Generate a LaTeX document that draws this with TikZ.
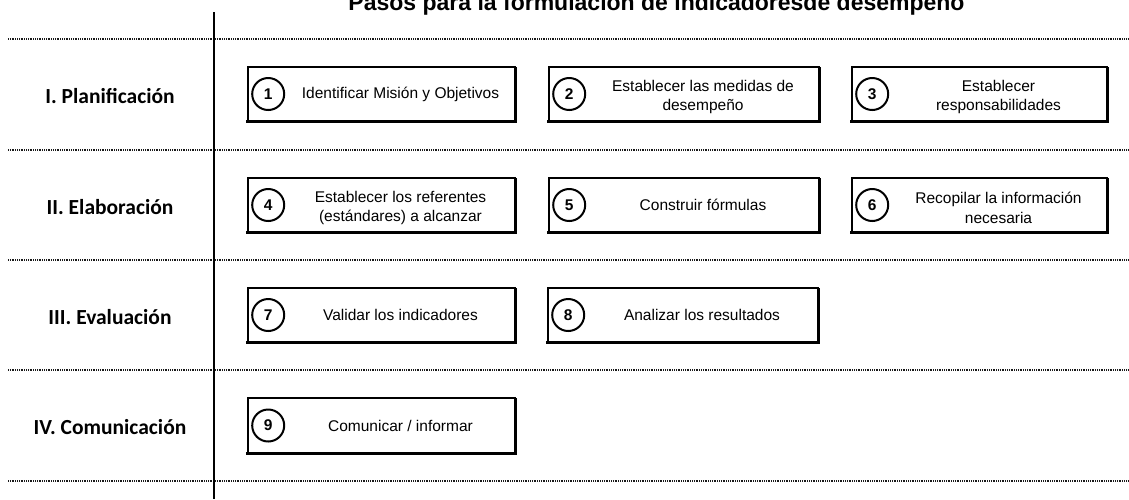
\documentclass[tikz,border=0pt]{standalone}
\usepackage{fontspec}
\setmainfont{Liberation Sans}
\newfontfamily\carlito{Carlito}
\usetikzlibrary{calc,shapes.geometric}
\newcommand\stepbx[8]{%
  \node[boxst, minimum width=#3pt, minimum height=#5pt] (b#1) at (#2,#4) {};
  \draw[line width=2.8pt] ($(b#1.north east)+(0,0.8)$) -- (b#1.south east) -- ($(b#1.south west)+(-0.8,0)$);
  \node[numst] (c#1) at ($(b#1.west)+(21,0)$) {#6};
  \node[txtst] (t#1) at ($(c#1.east)!0.5!(b#1.east)+(0,#8)$) {#7};
}
\begin{document}
\begin{tikzpicture}[x=1pt,y=-1pt,
  boxst/.style={draw, line width=1.6pt, rectangle, inner sep=0pt},
  numst/.style={draw, circle, line width=2pt, minimum size=32pt, inner sep=0pt, font=\bfseries\fontsize{15.5}{15.5}\selectfont},
  txtst/.style={align=center, font=\fontsize{15.5}{19.5}\selectfont},
  phasest/.style={font=\carlito\bfseries\fontsize{21.5}{21.5}\selectfont},
  sepst/.style={line width=1.4pt, dash pattern=on 1pt off 0.8pt, black!90}]
\useasboundingbox (0,0) rectangle (1129,499);
% title
\node[anchor=base, font=\bfseries\fontsize{23}{23}\selectfont] (title) at (656.5,10) {Pasos para la formulación de indicadoresde desempeño};
% separators
\foreach \yy/\nm in {39/s0,150/s1,260/s2,370/s3,481/s4}{
  \coordinate (\nm l) at (8,\yy);
  \coordinate (\nm r) at (1129,\yy);
  \draw[sepst] (\nm l) -- (\nm r);
}
% vertical rule
\coordinate (vt) at (214,12);
\coordinate (vb) at (214,499);
\draw[line width=1.7pt] (vt) -- (vb);
% phase labels
\node[phasest] (p1) at (110,96) {I. Planificación};
\node[phasest] (p2) at (110,207) {II. Elaboración};
\node[phasest] (p3) at (110,317) {III. Evaluación};
\node[phasest] (p4) at (110,427.5) {IV. Comunicación};
% boxes
\stepbx{1}{381.5}{267}{94}{54}{1}{Identificar Misión y Objetivos}{0}
\stepbx{2}{684}{270}{94}{54}{2}{Establecer las medidas de\\desempeño}{3}
\stepbx{3}{979.5}{255}{94}{54}{3}{Establecer\\responsabilidades}{3}
\stepbx{4}{381.5}{267}{205}{54}{4}{Establecer los referentes\\(estándares) a alcanzar}{3}
\stepbx{5}{684}{270}{205}{54}{5}{Construir fórmulas}{0}
\stepbx{6}{979.5}{255}{205}{54}{6}{Recopilar la información\\necesaria}{3}
\stepbx{7}{381.5}{267}{315}{54}{7}{Validar los indicadores}{0}
\stepbx{8}{683}{270}{315}{54}{8}{Analizar los resultados}{0}
\stepbx{9}{381.5}{267}{425.5}{55}{9}{Comunicar / informar}{0}
\end{tikzpicture}
\end{document}
